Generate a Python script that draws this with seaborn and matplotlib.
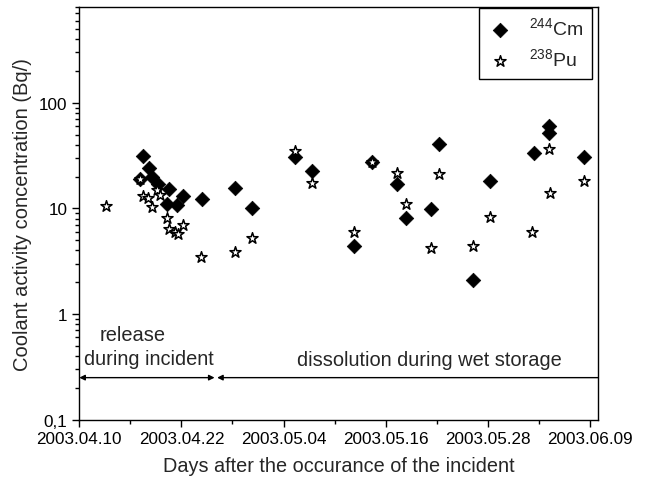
import pandas as pd
import matplotlib
matplotlib.use("Agg")
import matplotlib.pyplot as plt
import matplotlib.dates as mdates
from matplotlib.ticker import FixedLocator, FuncFormatter, LogLocator, NullFormatter
import seaborn as sns

# --- data (days after 2003.04.10, activity in Bq/l) ---
start_date = "2003-04-10"

cm_days = [7.1, 7.5, 8.2, 8.6, 9.3, 10.3, 10.5, 11.5, 12.2, 14.4, 18.3, 20.3,
           25.4, 27.4, 32.3, 34.4, 37.3, 38.4, 41.3, 42.3, 46.3, 48.3, 53.4,
           55.2, 55.2, 59.3]
cm_values = [19.1, 31.4, 24.2, 19.9, 17.1, 11.1, 15.1, 10.7, 13.0, 12.4, 15.7, 10.0,
             30.7, 22.4, 4.4, 27.5, 16.9, 8.1, 9.8, 40.4, 2.1, 18.0, 33.7,
             59.8, 51.8, 30.7]

pu_days = [3.1, 7.1, 7.5, 8.1, 8.5, 9.1, 9.5, 10.3, 10.5, 11.3, 11.6, 12.2,
           14.3, 18.3, 20.3, 25.4, 27.4, 32.3, 34.4, 37.3, 38.4, 41.3, 42.3,
           46.3, 48.3, 53.2, 55.2, 55.3, 59.3]
pu_values = [10.5, 19.1, 13.1, 12.6, 10.3, 14.8, 13.3, 8.1, 6.4, 6.0, 5.75, 6.9,
             3.5, 3.9, 5.3, 34.7, 17.4, 6.0, 27.5, 21.8, 11.1, 4.2, 21.3,
             4.4, 8.2, 6.0, 36.2, 14.1, 18.0]

tick_dates = ["2003-04-10", "2003-04-22", "2003-05-04", "2003-05-16", "2003-05-28", "2003-06-09"]
minor_dates = ["2003-04-16", "2003-04-28", "2003-05-10", "2003-05-22", "2003-06-03"]
y_ticks = [0.1, 1, 10, 100]
y_tick_labels = ["0,1", "1", "10", "100"]

base = pd.Timestamp(start_date)
cm_df = pd.DataFrame({"date": base + pd.to_timedelta(cm_days, unit="D"), "value": cm_values})
pu_df = pd.DataFrame({"date": base + pd.to_timedelta(pu_days, unit="D"), "value": pu_values})

# --- style ---
sns.set_style("ticks")
plt.rcParams["font.family"] = ["Liberation Sans", "DejaVu Sans"]
plt.rcParams["mathtext.fontset"] = "custom"
plt.rcParams["mathtext.rm"] = "Liberation Sans"

fig = plt.figure(figsize=(6.51, 4.81), dpi=100)
ax = fig.add_axes([0.1218, 0.1254, 0.7973, 0.8573])

sns.scatterplot(data=cm_df, x="date", y="value", ax=ax, marker="D", s=55,
                color="black", edgecolor="black", linewidth=0.5,
                label=r"$^{244}$Cm", zorder=3)
sns.scatterplot(data=pu_df, x="date", y="value", ax=ax, marker="*", s=70,
                facecolor="white", edgecolor="black", linewidth=1.1,
                label=r"$^{238}$Pu", zorder=4)

ax.set_yscale("log")
ax.set_ylim(0.1, 800)
ax.set_xlim(mdates.date2num(pd.Timestamp("2003-04-10")), mdates.date2num(pd.Timestamp("2003-06-10")))

ax.xaxis.set_major_locator(FixedLocator(mdates.date2num(pd.to_datetime(tick_dates))))
ax.xaxis.set_minor_locator(FixedLocator(mdates.date2num(pd.to_datetime(minor_dates))))
ax.xaxis.set_major_formatter(mdates.DateFormatter("%Y.%m.%d"))

ax.yaxis.set_major_locator(FixedLocator(y_ticks))
ax.yaxis.set_major_formatter(FuncFormatter(lambda v, pos: y_tick_labels[y_ticks.index(v)] if v in y_ticks else ""))
ax.yaxis.set_minor_locator(LogLocator(base=10, subs=range(2, 10)))
ax.yaxis.set_minor_formatter(NullFormatter())

ax.tick_params(which="major", direction="out", length=5, width=1, labelsize=12.3, colors="black")
ax.tick_params(which="minor", direction="out", length=3, width=1, colors="black")
for side in ["top", "right", "bottom", "left"]:
    ax.spines[side].set_visible(True)
    ax.spines[side].set_color("black")
    ax.spines[side].set_linewidth(1.0)

ax.set_xlabel("Days after the occurance of the incident", fontsize=14.3, labelpad=7)
ax.set_ylabel("Coolant activity concentration (Bq/)", fontsize=14.5, labelpad=5)

# --- annotations: release / dissolution phases ---
arrow_y = 0.25
split = base + pd.Timedelta(days=15.9)
ax.annotate("", xy=(mdates.date2num(base), arrow_y), xytext=(mdates.date2num(split), arrow_y),
            arrowprops=dict(arrowstyle="<|-|>", color="black", lw=1, mutation_scale=8, shrinkA=0, shrinkB=0))
ax.annotate("", xy=(mdates.date2num(base + pd.Timedelta(days=16.2)), arrow_y),
            xytext=(mdates.date2num(pd.Timestamp("2003-06-10")), arrow_y),
            arrowprops=dict(arrowstyle="-|>", color="black", lw=1, mutation_scale=8, shrinkA=0, shrinkB=0))
ax.text(mdates.date2num(base + pd.Timedelta(days=6.3)), 0.64, "release", ha="center", va="center", fontsize=14.4)
ax.text(mdates.date2num(base + pd.Timedelta(days=8.2)), 0.38, "during incident", ha="center", va="center", fontsize=14.4)
ax.text(mdates.date2num(base + pd.Timedelta(days=41.2)), 0.37, "dissolution during wet storage",
        ha="center", va="center", fontsize=14.4)

leg = ax.legend(loc="upper right", bbox_to_anchor=(0.988, 0.998), borderaxespad=0,
                fancybox=False, framealpha=1, edgecolor="black", fontsize=14,
                handletextpad=0.9, labelspacing=0.4, borderpad=0.45, handlelength=1.2)
leg.get_frame().set_linewidth(1.0)

fig.savefig("out.png", dpi=100)
